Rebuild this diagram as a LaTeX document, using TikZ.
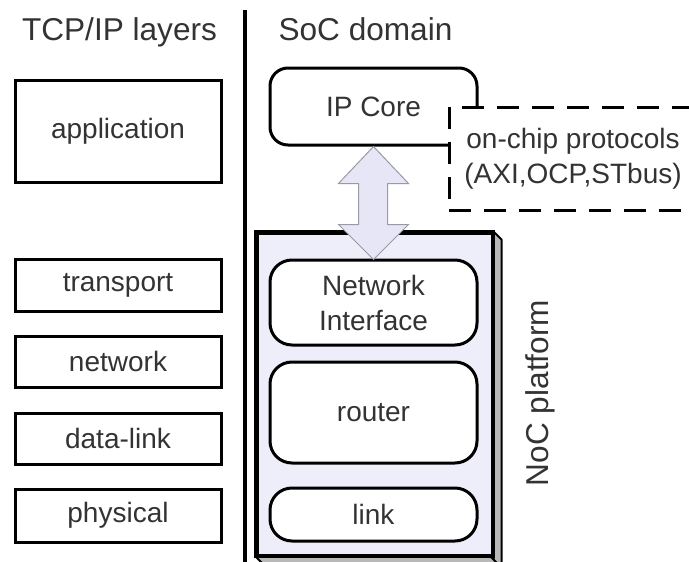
\documentclass[tikz,border=0pt]{standalone}
\usepackage{fontspec}
\setmainfont{Liberation Sans}
\definecolor{txt}{HTML}{333333}
\definecolor{nocfill}{HTML}{EEEEFA}
\definecolor{sidefill}{HTML}{B8B8B8}
\definecolor{arrfill}{HTML}{E6E6F6}
\definecolor{arrline}{HTML}{9A9AA4}
\begin{document}
\begin{tikzpicture}[x=1pt,y=-1pt,
  lbl/.style={font=\fontsize{28}{35}\selectfont, text=txt, align=center},
  title/.style={font=\fontsize{31.6}{36}\selectfont, text=txt, anchor=base},
  layerbox/.style={lbl, draw=black, line width=3pt, minimum width=206pt, inner sep=0pt},
  socbox/.style={lbl, draw=black, line width=3pt, fill=white, minimum width=207pt, inner sep=0pt},
  protobox/.style={draw=black, line width=3pt, fill=white, dash pattern=on 22pt off 13pt},
  blockarrow/.style={fill=arrfill, draw=arrline, line width=1pt, line join=miter}
]
\useasboundingbox (0,0) rectangle (689,562);
\clip (0,0) rectangle (689,562);

% titles
\node[title] (ttcp) at (119.5,40) {TCP/IP layers};
\node[title] (tsoc) at (365.5,40) {SoC domain};

% separator
\coordinate (septop) at (245,10);
\coordinate (sepbot) at (245,562);
\draw[line width=4pt] (septop) -- (sepbot);

% TCP/IP layers
\node[layerbox, minimum height=102pt] (app) at (118,131) {application};
\node[layerbox, minimum height=52pt] (tra) at (118,285) {transport};
\node[layerbox, minimum height=51pt] (net) at (118,361.5) {network};
\node[layerbox, minimum height=51pt] (dl) at (118,438.5) {data-link};
\node[layerbox, minimum height=53pt] (phy) at (118,515.5) {physical};

% NoC platform body (3D box)
\node[draw=black, line width=3pt, fill=nocfill, minimum width=235pt, minimum height=322pt, inner sep=0pt] (noc) at (374.5,394) {};
\draw[line width=2pt, fill=sidefill, line join=round] (noc.north east) -- ++(8,8) -- ++(0,330) -- ++(-8,-8) -- cycle;
\draw[line width=2pt, fill=sidefill, line join=round] (noc.south west) -- ++(8,8) -- ++(235,0) -- ++(-8,-8) -- cycle;
\draw[line width=3pt] (noc.north west) rectangle (noc.south east);

% IP core and protocols
\node[socbox, rounded corners=18pt, minimum height=77pt] (ip) at (373.5,106.5) {IP Core};
\node[protobox, minimum width=246pt, minimum height=103pt, inner sep=0pt] (protobg) at (572,158.5) {};
\node[lbl] (proto) at (573,158.5) {on-chip protocols\\(AXI,OCP,STbus)};

% NoC components
\node[socbox, rounded corners=22pt, minimum height=85pt] (ni) at (373.5,302.5) {Network\\Interface};
\node[socbox, rounded corners=22pt, minimum height=101pt] (rt) at (373.5,412.5) {router};
\node[socbox, rounded corners=22pt, minimum height=53pt] (lk) at (373.5,514.5) {link};

\node[lbl, font=\fontsize{31.6}{36}\selectfont, rotate=90] (noclbl) at (540,393) {NoC platform};

% double block arrow between IP core and NI
\draw[blockarrow] (ip.south) -- ++(-35,37) -- ++(20,0) -- ++(0,41) -- ++(-20,0)
  -- ++(35,35) -- ++(35,-35) -- ++(-21,0) -- ++(0,-41) -- ++(21,0) -- cycle;
\end{tikzpicture}
\end{document}
